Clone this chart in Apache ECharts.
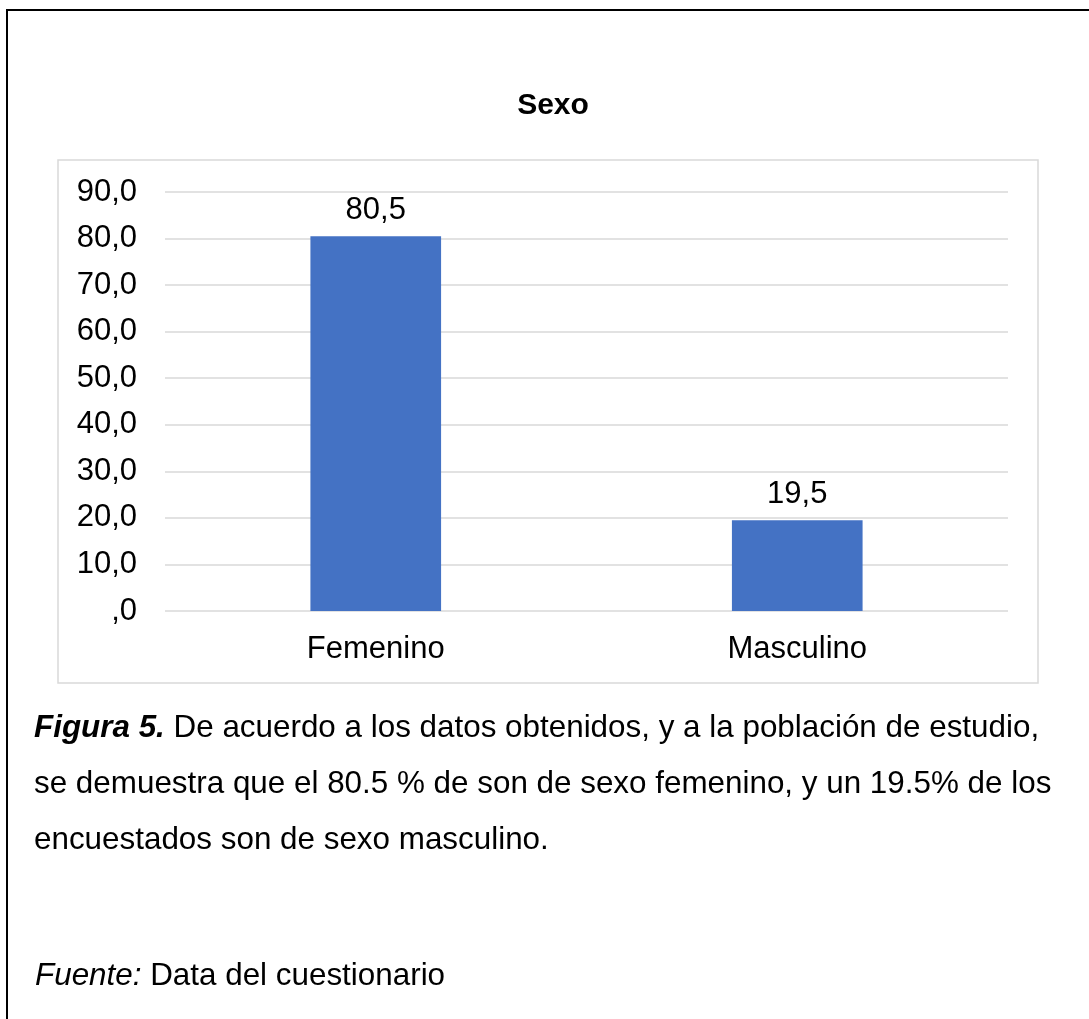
<!DOCTYPE html>
<html>
<head>
<meta charset="utf-8">
<script src="https://cdn.jsdelivr.net/npm/echarts@6/dist/echarts.min.js"></script>
<style>
  html, body { margin: 0; padding: 0; background: #fff; }
  #main { width: 1089px; height: 1019px; }
</style>
</head>
<body>
<div id="main"></div>
<script>
// datos del gráfico
const categorias = ['Femenino', 'Masculino']
const porcentajes = [80.5, 19.5]
const ejeY = { min: 0, max: 90, interval: 10 }

const fuente = '"Liberation Sans", Arial, sans-serif'
// formato con coma decimal, el cero se muestra como ",0"
function coma(v) {
  if (v === 0) return ',0'
  return v.toFixed(1).replace('.', ',')
}

const chart = echarts.init(document.getElementById('main'), null, { renderer: 'canvas' })

let option = {
  backgroundColor: '#ffffff',
  animation: false,
  title: {
    text: 'Sexo',
    left: 548,
    top: 86,
    textAlign: 'center',
    textStyle: { fontFamily: fuente, fontSize: 30, fontWeight: 'bold', color: '#000' }
  },
  grid: { left: 165, right: 81, top: 192, bottom: 408 },
  xAxis: {
    type: 'category',
    data: categorias,
    axisLine: { show: false },
    axisTick: { show: false },
    axisLabel: { margin: 23, fontFamily: fuente, fontSize: 31, color: '#000' }
  },
  yAxis: {
    type: 'value',
    min: ejeY.min,
    max: ejeY.max,
    interval: ejeY.interval,
    axisLine: { show: false },
    axisTick: { show: false },
    splitLine: { lineStyle: { color: '#d9d9d9', width: 1.5 } },
    axisLabel: { margin: 28, fontFamily: fuente, fontSize: 31, color: '#000', formatter: coma }
  },
  series: [{
    type: 'bar',
    data: porcentajes,
    barWidth: '31%',
    itemStyle: { color: '#4472c4' },
    label: {
      show: true,
      position: 'top',
      distance: 10,
      fontFamily: fuente,
      fontSize: 31,
      color: '#000',
      formatter: p => coma(p.value)
    }
  }],
  graphic: [
    // marco exterior (se sale del lienzo por la derecha y abajo)
    {
      type: 'rect',
      shape: { x: 7, y: 10, width: 1200, height: 1200 },
      style: { fill: 'none', stroke: '#000', lineWidth: 2 },
      z: -1
    },
    // marco del gráfico
    {
      type: 'rect',
      shape: { x: 58, y: 160, width: 980, height: 523 },
      style: { fill: 'none', stroke: '#d9d9d9', lineWidth: 1.5 },
      z: -1
    },
    {
      type: 'text',
      left: 34,
      top: 700,
      style: {
        text: '{b|Figura 5.} De acuerdo a los datos obtenidos, y a la población de estudio,\nse demuestra que el 80.5 % de son de sexo femenino, y un 19.5% de los\nencuestados son de sexo masculino.',
        font: '31.4px ' + fuente,
        fill: '#000',
        lineHeight: 56,
        rich: {
          b: { fontFamily: fuente, fontSize: 31.4, fontWeight: 'bold', fontStyle: 'italic', fill: '#000', lineHeight: 56 }
        }
      }
    },
    {
      type: 'text',
      left: 35,
      top: 961,
      style: {
        text: '{i|Fuente:} Data del cuestionario',
        font: '31.4px ' + fuente,
        fill: '#000',
        rich: {
          i: { fontFamily: fuente, fontSize: 31.4, fontStyle: 'italic', fill: '#000' }
        }
      }
    }
  ]
}

chart.setOption(option)
</script>
</body>
</html>
